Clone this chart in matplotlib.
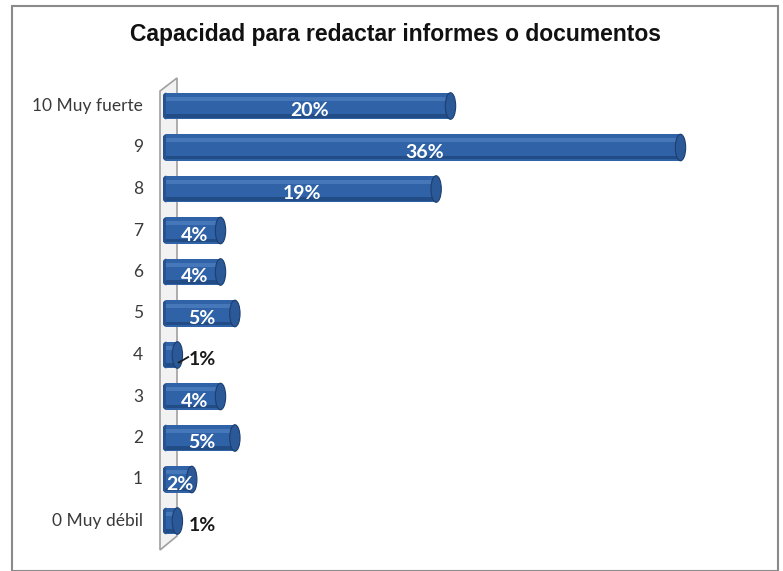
import matplotlib
matplotlib.use("Agg")
import matplotlib.pyplot as plt
from matplotlib.patches import Ellipse, Rectangle, Polygon

categories = ["0 Muy débil", "1", "2", "3", "4", "5", "6", "7", "8", "9", "10 Muy fuerte"]
values = [1, 2, 5, 4, 1, 5, 4, 4, 19, 36, 20]
labels = ["1%", "2%", "5%", "4%", "1%", "5%", "4%", "4%", "19%", "36%", "20%"]
title = "Capacidad para redactar informes o documentos"

W, H = 783, 571
fig = plt.figure(figsize=(W / 100, H / 100), dpi=100)
fig.patch.set_facecolor("white")

# figure border
fig.add_artist(Rectangle((12 / W, 0), (778 - 12) / W, 1 - 6 / H, transform=fig.transFigure,
                         fill=False, edgecolor="#8a8a8a", linewidth=1.5))

ax_left, ax_right = 163 / W, 738 / W
ax_top, ax_bot = 85.25 / H, 541.75 / H
ax = fig.add_axes([ax_left, 1 - ax_bot, ax_right - ax_left, ax_bot - ax_top])
ax.set_xlim(0, 40)
ax.set_ylim(-0.5, len(categories) - 0.5)
ax.axis("off")

# left 3D wall
wall = Polygon([(160 / W, 1 - 91 / H), (177 / W, 1 - 78 / H), (177 / W, 1 - 536 / H), (160 / W, 1 - 550 / H)],
               closed=True, transform=fig.transFigure, facecolor="#f2f2f2", edgecolor="#a0a0a0",
               linewidth=1.2, zorder=0)
fig.add_artist(wall)

bh = 0.64
capw = 0.72
body = "#2f62a6"
for i, (v, lab) in enumerate(zip(values, labels)):
    ax.add_patch(Ellipse((0.2, i), capw, bh, facecolor="#27528f", edgecolor="none", zorder=2))
    ax.barh(i, v - 0.2, left=0.2, height=bh, color=body, edgecolor="none", zorder=3)
    ax.barh(i + bh * 0.27, v - 0.2, left=0.2, height=bh * 0.16, color="#4677b8", edgecolor="none", zorder=3)
    ax.barh(i - bh * 0.37, v - 0.2, left=0.2, height=bh * 0.13, color="#224c86", edgecolor="none", zorder=3)
    ax.add_patch(Ellipse((v, i), capw, bh, facecolor="#2b5897", edgecolor="#1c3f70",
                         linewidth=0.8, zorder=4))
    if v >= 2:
        ax.text(v / 2 + 0.2, i - 0.12, lab, color="white", fontsize=14, fontweight="bold",
                family="Lato", ha="center", va="center", zorder=5)
    else:
        ax.text(v + 0.8, i - 0.1, lab, color="#1a1a1a", fontsize=14, fontweight="bold",
                family="Lato", ha="left", va="center", zorder=5)

# leader line for row "4"
ax.plot([values[4] + 0.1, values[4] + 0.75], [4 - 0.18, 4 - 0.05], color="#1a1a1a", lw=1.3, zorder=5)

for i, c in enumerate(categories):
    fig.text(143 / W, ax.transData.transform((0, i))[1] / H, c, ha="right", va="center",
             fontsize=12.5, family="Lato", color="#3a3a3a")

fig.text(0.5 * (124 + 667) / W, 1 - 35 / H, title, ha="center", va="center",
         fontsize=16.5, fontweight="bold", family="Liberation Sans", color="#111111")

fig.savefig("out.png", dpi=100, facecolor="white")
